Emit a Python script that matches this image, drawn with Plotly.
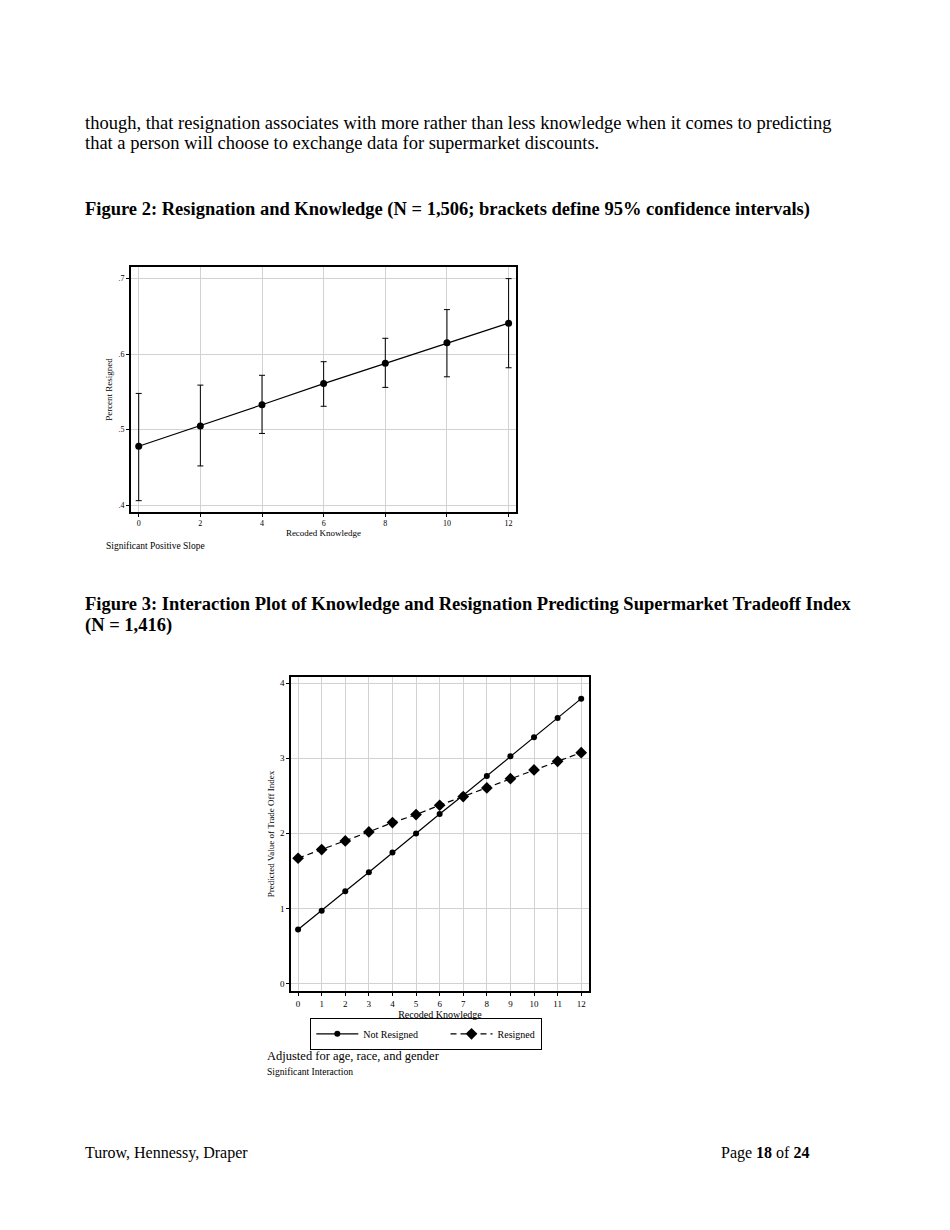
import plotly.graph_objects as go

# --- Figure 2 data: resignation vs knowledge, with 95% CI ---
knowledge_f2 = [0, 2, 4, 6, 8, 10, 12]
pct_resigned = [0.478, 0.505, 0.533, 0.561, 0.588, 0.615, 0.641]
ci_upper = [0.548, 0.559, 0.572, 0.590, 0.621, 0.659, 0.700]
ci_lower = [0.406, 0.452, 0.495, 0.531, 0.556, 0.570, 0.582]
f2_yticks = [0.4, 0.5, 0.6, 0.7]
f2_yticklabels = [".4", ".5", ".6", ".7"]

# --- Figure 3 data: predicted trade off index ---
knowledge_f3 = list(range(13))
not_resigned = [0.718, 0.967, 1.228, 1.481, 1.743, 1.996, 2.257,
                2.506, 2.763, 3.024, 3.277, 3.534, 3.792]
resigned = [1.667, 1.783, 1.898, 2.018, 2.142, 2.248, 2.373,
            2.488, 2.603, 2.727, 2.843, 2.958, 3.073]

W, H = 950, 1230
OFF = 8  # page body margin in the browser
SERIF = "Liberation Serif"


def px_x(v):
    return (v - OFF) / W


def px_y(v):
    return 1 - (v - OFF) / H


fig = go.Figure()

fig.add_trace(go.Scatter(
    x=knowledge_f2, y=pct_resigned, mode="lines+markers",
    line=dict(color="black", width=1.2),
    marker=dict(symbol="circle", size=7, color="black"),
    error_y=dict(type="data", symmetric=False,
                 array=[u - p for u, p in zip(ci_upper, pct_resigned)],
                 arrayminus=[p - l for p, l in zip(pct_resigned, ci_lower)],
                 color="black", thickness=1, width=3),
    showlegend=False, xaxis="x", yaxis="y",
))

# trailing no-break spaces widen the gap between legend entries
fig.add_trace(go.Scatter(
    x=knowledge_f3, y=not_resigned, mode="lines+markers",
    name="Not Resigned" + "\u00a0" * 9,
    line=dict(color="black", width=1.2),
    marker=dict(symbol="circle", size=6, color="black"),
    xaxis="x2", yaxis="y2",
))
fig.add_trace(go.Scatter(
    x=knowledge_f3, y=resigned, mode="lines+markers", name="Resigned",
    line=dict(color="black", width=1.2, dash="6px,4px"),
    marker=dict(symbol="diamond", size=9, color="black"),
    xaxis="x2", yaxis="y2",
))

axis_common = dict(
    showline=True, linecolor="black", linewidth=1.6, mirror=True,
    showgrid=True, gridcolor="#d2d2d2", gridwidth=1.4, zeroline=False,
    ticks="outside", ticklen=3, tickcolor="black", tickwidth=1.2,
)

fig.update_layout(
    width=W, height=H,
    margin=dict(l=0, r=0, t=0, b=0),
    paper_bgcolor="white", plot_bgcolor="white",
    font=dict(family=SERIF, color="black"),
    xaxis=dict(axis_common, domain=[px_x(131), px_x(516)], range=[-0.25, 12.24],
               tickvals=knowledge_f2, tickfont=dict(size=8),
               title=dict(text="Recoded Knowledge", font=dict(size=9), standoff=0),
               anchor="y"),
    yaxis=dict(axis_common, domain=[px_y(512), px_y(267)], range=[0.391, 0.7154],
               tickvals=f2_yticks, ticktext=f2_yticklabels, tickfont=dict(size=8),
               title=dict(text="Percent Resigned", font=dict(size=9), standoff=4),
               anchor="x"),
    xaxis2=dict(axis_common, domain=[px_x(291), px_x(589)], range=[-0.3, 12.33],
                tickvals=knowledge_f3, tickfont=dict(size=9),
                title=dict(text="Recoded Knowledge", font=dict(size=10), standoff=0),
                anchor="y2"),
    yaxis2=dict(axis_common, domain=[px_y(991), px_y(677)], range=[-0.1, 4.08],
                tickvals=[0, 1, 2, 3, 4], tickfont=dict(size=9),
                title=dict(text="Predicted Value of Trade Off Index", font=dict(size=9), standoff=4),
                anchor="x2"),
    legend=dict(orientation="h", x=px_x(426), y=px_y(1034), xanchor="center", yanchor="middle",
                bordercolor="black", borderwidth=1.3, bgcolor="white",
                font=dict(size=10), itemwidth=42),
)

body = 18.5
foot = 16
texts = [
    (83, 123, "though, that resignation associates with more rather than less knowledge when it comes to predicting", body, "left"),
    (83, 143, "that a person will choose to exchange data for supermarket discounts.", body, "left"),
    (83, 209, "<b>Figure 2: Resignation and Knowledge (N = 1,506; brackets define 95% confidence intervals)</b>", body, "left"),
    (83, 604, "<b>Figure 3: Interaction Plot of Knowledge and Resignation Predicting Supermarket Tradeoff Index</b>", body, "left"),
    (83, 625, "<b>(N = 1,416)</b>", body, "left"),
    (104, 546, "Significant Positive Slope", 9.5, "left"),
    (265, 1056, "Adjusted for age, race, and gender", 12.5, "left"),
    (265, 1071, "Significant Interaction", 9.6, "left"),
    (83, 1153, "Turow, Hennessy, Draper", foot, "left"),
    (811, 1153, "Page <b>18</b> of <b>24</b>", foot, "right"),
]
for x, y, t, s, anchor in texts:
    fig.add_annotation(x=px_x(x), y=px_y(y), xref="paper", yref="paper", text=t,
                       showarrow=False, xanchor=anchor, yanchor="middle",
                       font=dict(size=s, family=SERIF, color="black"))

fig.write_html("out.html")
